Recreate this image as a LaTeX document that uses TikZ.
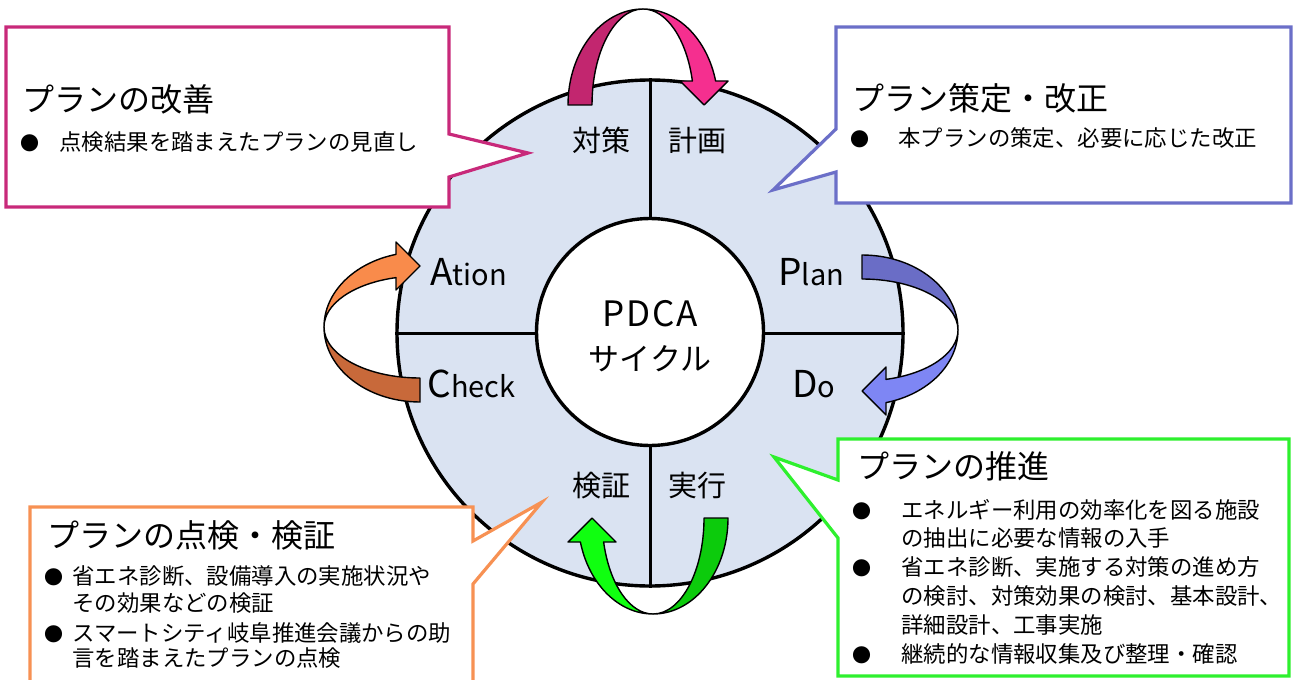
\documentclass[tikz,border=0pt]{standalone}
\usepackage{fontspec}
\setmainfont{Noto Sans CJK JP}
\definecolor{ringblue}{HTML}{DAE3F2}
\definecolor{magtail}{HTML}{C2266F}
\definecolor{maghead}{HTML}{F52F8F}
\definecolor{magline}{HTML}{C8297A}
\definecolor{bluetail}{HTML}{6A6DC6}
\definecolor{bluehead}{HTML}{7E86F4}
\definecolor{blueline}{HTML}{6B6FC8}
\definecolor{greentail}{HTML}{0CCB0C}
\definecolor{greenhead}{HTML}{10FF10}
\definecolor{greenline}{HTML}{2EF02E}
\definecolor{orangetail}{HTML}{C8693A}
\definecolor{orangehead}{HTML}{F98B4B}
\definecolor{orangeline}{HTML}{F79153}
\tikzset{
  outerring/.style={circle, draw=black, line width=1.7pt, fill=ringblue, minimum size=253pt, inner sep=0pt},
  hub/.style={circle, draw=black, line width=1.7pt, fill=white, minimum size=113.5pt, inner sep=0pt},
  hubtext/.style={align=center, inner sep=0pt, font=\fontsize{15.5}{22}\selectfont},
  divider/.style={line width=1.5pt},
  quad/.style={font=\fontsize{14.5}{14.5}\selectfont, inner sep=0pt, text height=0.88em, text depth=0.12em},
  latin/.style={anchor=base west, inner sep=0pt},
  callout/.style={fill=white, line width=1.6pt, line join=miter},
  boxtitle/.style={font=\fontsize{16}{16}\selectfont, anchor=west, inner sep=0pt, text height=0.88em, text depth=0.12em},
  bulletline/.style={font=\fontsize{11.2}{11.2}\selectfont, anchor=west, inner sep=0pt, text height=0.88em, text depth=0.12em},
  bulletdot/.style={font=\fontsize{9.5}{9.5}\selectfont, inner sep=0pt, text height=0.88em, text depth=0.12em},
  arrowline/.style={draw=black, line width=0.7pt, line join=round},
}
\newcommand{\capfont}{\fontsize{18.5}{18.5}\selectfont}
\newcommand{\lowfont}{\fontsize{14.5}{14.5}\selectfont}
\newcommand{\pdcaarrow}[5]{%
  \begin{scope}[shift={(#1,#2)}, rotate=#3]
    \filldraw[fill=#4, arrowline] (-75,0) arc[start angle=180, end angle=90, x radius=75, y radius=96]
      arc[start angle=90, end angle=180, x radius=51, y radius=96] -- cycle;
    \filldraw[fill=#5, arrowline] (0,96) arc[start angle=90, end angle=14.48, x radius=75, y radius=96]
      -- (85,24) -- (61,0) -- (37,24) -- (49.38,24)
      arc[start angle=14.48, end angle=90, x radius=51, y radius=96] -- cycle;
  \end{scope}}
\begin{document}
\begin{tikzpicture}[x=0.5pt, y=0.5pt]
\useasboundingbox (0,0) rectangle (1293,-679);
\clip (0,0) rectangle (1293,-679);

% PDCA wheel
\node[outerring] (big) at (650,-333) {};
\draw[divider] (big.north) -- (big.south);
\draw[divider] (big.west) -- (big.east);
\node[hub] (hub) at (650,-332) {};
\node[hubtext] (pdca) at (650,-336) {{\fontsize{17.5}{22}\addfontfeatures{LetterSpace=5}\selectfont PDCA}\\サイクル};

% quadrant labels
\node[quad] (taisaku) at (601,-144) {対策};
\node[quad] (keikaku) at (697,-144) {計画};
\node[quad] (kensho) at (601,-489) {検証};
\node[quad] (jikko) at (697,-489) {実行};
\node[latin] (action) at (430,-285) {{\capfont A}{\lowfont tion}};
\node[latin] (plan) at (778,-285) {{\capfont P}{\lowfont lan}};
\node[latin] (check) at (427,-397) {{\capfont C}{\lowfont heck}};
\node[latin] (do) at (792,-397) {{\capfont D}{\lowfont o}};

% curved arrows
\pdcaarrow{643}{-105}{0}{magtail}{maghead}
\pdcaarrow{862}{-330}{-90}{bluetail}{bluehead}
\pdcaarrow{653}{-518}{180}{greentail}{greenhead}
\pdcaarrow{420}{-327}{90}{orangetail}{orangehead}

% callout: top left
\draw[callout, draw=magline] (6,-27) -- (449,-27) -- (449,-134) -- (528,-153) -- (449,-177) -- (449,-207) -- (6,-207) -- cycle;
\node[boxtitle] (t1) at (22,-104) {プランの改善};
\node[bulletdot] (b1) at (30,-143) {●};
\node[bulletline] (l1) at (59,-143) {点検結果を踏まえたプランの見直し};

% callout: top right
\draw[callout, draw=blueline] (836,-27) -- (1291,-27) -- (1291,-203) -- (836,-203) -- (836,-172) -- (773,-190) -- (836,-129) -- cycle;
\node[boxtitle] (t2) at (852,-103) {プラン策定・改正};
\node[bulletdot] (b2) at (860,-139) {●};
\node[bulletline] (l2) at (898,-139) {本プランの策定、必要に応じた改正};

% callout: bottom right
\draw[callout, draw=greenline] (838,-439) -- (1289,-439) -- (1289,-676) -- (838,-676) -- (838,-538) -- (774,-457) -- (838,-480) -- cycle;
\node[boxtitle] (t3) at (857,-471) {プランの推進};
\node[bulletdot] (b3a) at (862,-511) {●};
\node[bulletline] (l3a) at (901,-511) {エネルギー利用の効率化を図る施設};
\node[bulletline] (l3b) at (901,-539) {の抽出に必要な情報の入手};
\node[bulletdot] (b3b) at (862,-568) {●};
\node[bulletline] (l3c) at (901,-568) {省エネ診断、実施する対策の進め方};
\node[bulletline] (l3d) at (901,-597) {の検討、対策効果の検討、基本設計、};
\node[bulletline] (l3e) at (901,-626) {詳細設計、工事実施};
\node[bulletdot] (b3c) at (862,-655) {●};
\node[bulletline] (l3f) at (901,-655) {継続的な情報収集及び整理・確認};

% callout: bottom left
\draw[callout, draw=orangeline] (30,-507) -- (473,-507) -- (473,-541) -- (542,-502) -- (473,-584) -- (473,-700) -- (30,-700) -- cycle;
\node[boxtitle] (t4) at (47,-540) {プランの点検・検証};
\node[bulletdot] (b4a) at (54,-577) {●};
\node[bulletline] (l4a) at (72,-577) {省エネ診断、設備導入の実施状況や};
\node[bulletline] (l4b) at (72,-604) {その効果などの検証};
\node[bulletdot] (b4b) at (54,-634) {●};
\node[bulletline] (l4c) at (72,-634) {スマートシティ岐阜推進会議からの助};
\node[bulletline] (l4d) at (72,-659) {言を踏まえたプランの点検};
\end{tikzpicture}
\end{document}
